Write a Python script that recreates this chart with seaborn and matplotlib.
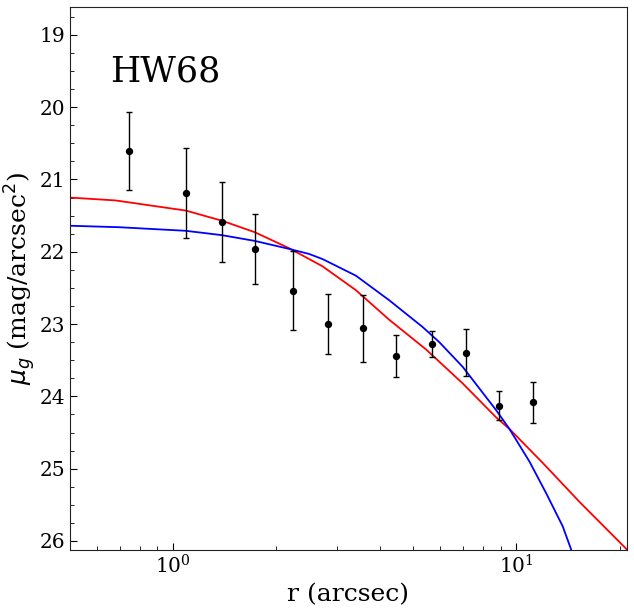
import numpy as np
import pandas as pd
import matplotlib
matplotlib.use("Agg")
import matplotlib.pyplot as plt
import seaborn as sns

# surface brightness profile of HW68
r_obs = [0.744, 1.089, 1.390, 1.735, 2.240, 2.834, 3.585, 4.474, 5.660, 7.113, 8.879, 11.19]
mu_obs = [20.61, 21.185, 21.59, 21.96, 22.54, 23.00, 23.06, 23.44, 23.28, 23.40, 24.13, 24.08]
mu_err = [0.54, 0.625, 0.555, 0.48, 0.545, 0.41, 0.465, 0.29, 0.18, 0.325, 0.20, 0.285]

# model profiles
r_red = [0.50, 0.68, 1.089, 1.387, 1.731, 2.176, 2.722, 3.406, 4.260, 5.452, 6.971,
         8.726, 9.541, 11.93, 15.27, 21.0]
mu_red = [21.25, 21.29, 21.43, 21.57, 21.73, 21.95, 22.20, 22.53, 22.94, 23.35, 23.82,
          24.29, 24.45, 24.92, 25.46, 26.12]

r_blue = [0.50, 0.694, 1.089, 1.387, 1.731, 2.176, 2.489, 2.722, 3.406, 4.260, 5.329,
          5.962, 6.971, 8.726, 9.541, 10.91, 12.21, 13.65, 14.44]
mu_blue = [21.64, 21.66, 21.71, 21.77, 21.85, 21.96, 22.03, 22.10, 22.33, 22.67, 23.04,
           23.25, 23.59, 24.19, 24.45, 24.90, 25.34, 25.80, 26.12]

sns.set_style("ticks")
plt.rcParams['font.family'] = ['DejaVu Serif']
plt.rcParams['mathtext.fontset'] = 'dejavusans'
plt.rcParams['text.color'] = 'black'
plt.rcParams['axes.labelcolor'] = 'black'
plt.rcParams['xtick.color'] = 'black'
plt.rcParams['ytick.color'] = 'black'

df_obs = pd.DataFrame({'r': r_obs, 'mu': mu_obs, 'err': mu_err})
df_red = pd.DataFrame({'r': r_red, 'mu': mu_red})
df_blue = pd.DataFrame({'r': r_blue, 'mu': mu_blue})

fig = plt.figure(figsize=(6.34, 6.08), dpi=100)
ax = fig.add_axes([0.110, 0.096, 0.879, 0.893])

sns.lineplot(data=df_red, x='r', y='mu', color='red', lw=1.3, ax=ax, sort=False)
sns.lineplot(data=df_blue, x='r', y='mu', color='blue', lw=1.3, ax=ax, sort=False)
ax.errorbar(df_obs['r'], df_obs['mu'], yerr=df_obs['err'], fmt='none',
            ecolor='black', elinewidth=1, capsize=2.5, capthick=1)
sns.scatterplot(data=df_obs, x='r', y='mu', color='black', s=28, ax=ax,
                edgecolor='black', linewidth=0, zorder=5)

ax.set_xscale('log')
ax.set_xlim(0.5, 21.0)
ax.set_ylim(26.12, 18.61)
ax.yaxis.set_major_locator(matplotlib.ticker.MultipleLocator(1))
ax.yaxis.set_minor_locator(matplotlib.ticker.MultipleLocator(0.25))
ax.tick_params(which='both', direction='in', top=False, right=False,
               labelsize=14.5)
ax.tick_params(which='major', length=5)
ax.tick_params(which='minor', length=3)
for s in ax.spines.values():
    s.set_color('#222222')

ax.set_xlabel('r (arcsec)', fontsize=18)
ax.set_ylabel(r'$\mu_g$ (mag/arcsec$^2$)', fontsize=18, labelpad=1)
ax.text(0.072, 0.862, 'HW68', transform=ax.transAxes, fontsize=25)

fig.savefig('out.png', dpi=100)
